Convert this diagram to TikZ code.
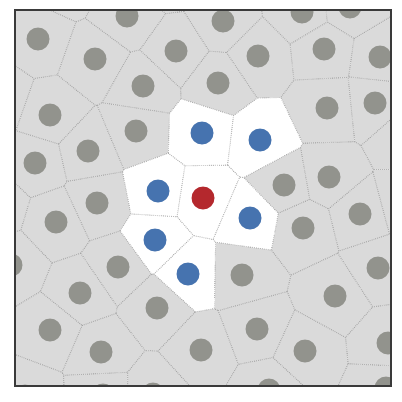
\documentclass[tikz,border=0pt]{standalone}
\usetikzlibrary{calc}

\definecolor{cellg}{HTML}{DADADA}
\definecolor{cellb}{HTML}{FFFFFF}
\definecolor{cellr}{HTML}{FFFFFF}
\definecolor{dotg}{HTML}{92938D}
\definecolor{dotb}{HTML}{4673AF}
\definecolor{dotr}{HTML}{B4282D}
\definecolor{framecol}{HTML}{3A3A3A}

\tikzset{
  cellline/.style={gray!80, line width=0.6pt, dash pattern=on 0.6pt off 0.8pt},
}

% sites: number / x / y / kind (g gray, b blue, r red), pixels from top left
\def\sites{1/38/39/g, 2/127/16/g, 3/95/59/g, 4/176/51/g, 5/223/21/g,
  6/258/56/g, 7/302/12/g, 8/350/7/g, 9/324/49/g, 10/380/57/g,
  11/143/86/g, 12/218/83/g, 13/50/115/g, 14/136/131/g, 15/327/108/g,
  16/375/103/g, 17/35/163/g, 18/88/151/g, 19/284/185/g, 20/329/177/g,
  21/97/203/g, 22/56/222/g, 23/303/228/g, 24/360/214/g, 25/11/265/g,
  26/118/267/g, 27/242/275/g, 28/378/268/g, 29/80/293/g, 30/157/308/g,
  31/335/296/g, 32/50/330/g, 33/101/352/g, 34/201/350/g, 35/257/329/g,
  36/305/351/g, 37/388/343/g, 38/25/396/g, 39/103/395/g, 40/153/394/g,
  41/269/390/g, 42/386/388/g,
  43/-1/97/g, 44/-4/204/g, 45/64/-18/g, 46/166/-25/g, 47/405/137/g, 48/405/202/g,
  49/202/133/b, 50/260/140/b, 51/158/191/b, 52/250/218/b, 53/155/240/b,
  54/188/274/b, 55/203/198/r}

\begin{document}
\begin{tikzpicture}[x=0.025cm, y=-0.025cm]
    \useasboundingbox (0,0) rectangle (402,402);

    \foreach \i/\x/\y/\k in \sites \coordinate (p\i) at (\x,\y);

    \begin{scope}
        \clip (15,10) rectangle (391,386);

        % one cell per site: cut by the bisectors with its near sites
        \foreach \i/\xi/\yi/\ki in \sites {
            \begin{scope}
                \foreach \j/\xj/\yj/\kj in \sites {
                    \pgfmathsetmacro\d{((\xi)/100-(\xj)/100)^2+((\yi)/100-(\yj)/100)^2}
                    \ifdim\d pt>0pt\ifdim\d pt<2pt
                        \coordinate (m) at ($(p\i)!.5!(p\j)$);
                        \clip ($(m)!40cm!90:(p\j)$) -- ($(m)!40cm!-90:(p\j)$)
                            -- ($(m)!40cm!180:(p\j)$) -- cycle;
                    \fi\fi
                }
                \fill[cell\ki] (15,10) rectangle (391,386);
                \foreach \j/\xj/\yj/\kj in \sites {
                    \pgfmathsetmacro\d{((\xi)/100-(\xj)/100)^2+((\yi)/100-(\yj)/100)^2}
                    \ifdim\d pt>0pt\ifdim\d pt<2pt
                        \coordinate (m) at ($(p\i)!.5!(p\j)$);
                        \ifnum\i<\j \def\far{p\j}\else \def\far{p\i}\fi
                        \draw[cellline] ($(m)!15cm!90:(\far)$) -- ($(m)!15cm!-90:(\far)$);
                    \fi\fi
                }
            \end{scope}
        }

        \foreach \i/\x/\y/\k in \sites \fill[dot\k] (p\i) circle[radius=11.5];
    \end{scope}

    \draw[framecol, line width=1.1pt] (15,10) rectangle (391,386);
\end{tikzpicture}
\end{document}
